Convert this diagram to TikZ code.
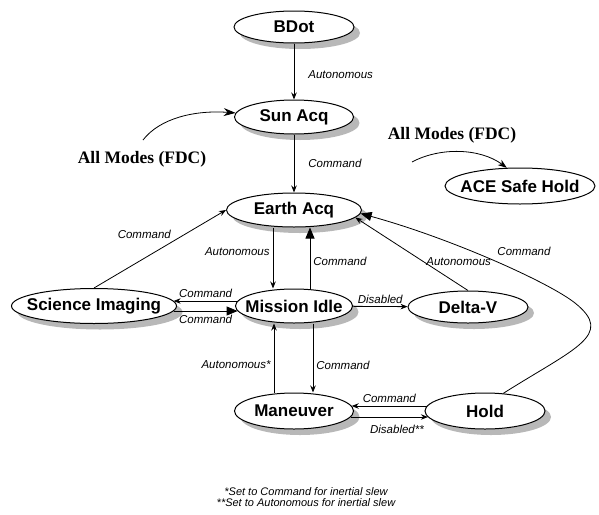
\documentclass[tikz,border=0pt]{standalone}
\usepackage{fontspec}
\setmainfont{Liberation Serif}
\setsansfont{Liberation Sans}
\usetikzlibrary{shapes.geometric,arrows.meta}

\tikzset{
  modebox/.style={ellipse, draw, line width=1pt, fill=white, inner xsep=-100pt, inner ysep=-30pt,
    font=\sffamily\bfseries\fontsize{17}{20}\selectfont},
  shadowed/.style={preaction={fill=black!28, draw=none, transform canvas={shift={(6pt,-6pt)}}}},
  lbl/.style={font=\sffamily\itshape\fontsize{11.5}{13}\selectfont, inner sep=2pt},
  big/.style={-{Triangle[length=11pt,width=9pt]}},
  fdc/.style={font=\rmfamily\bfseries\fontsize{17.5}{20}\selectfont},
  foot/.style={font=\sffamily\itshape\fontsize{11}{11.5}\selectfont, align=center}
}

\begin{document}
\begin{tikzpicture}[x=1pt, y=-1pt, >={Stealth[length=7pt,width=5.5pt]}, line width=0.8pt]
\useasboundingbox (0,0) rectangle (599,514);

% modes
\node[modebox, shadowed, minimum width=120pt, minimum height=32pt] (bdot) at (294,27) {BDot};
\node[modebox, shadowed, minimum width=119pt, minimum height=34pt] (sun) at (294,117) {Sun Acq};
\node[modebox, minimum width=150pt, minimum height=36pt] (ace) at (520,186) {ACE Safe Hold};
\node[modebox, shadowed, minimum width=135pt, minimum height=34pt] (earth) at (294,210) {Earth Acq};
\node[modebox, shadowed, minimum width=165pt, minimum height=35pt] (science) at (94,306) {Science Imaging};
\node[modebox, shadowed, minimum width=117pt, minimum height=34pt] (mission) at (294,306) {Mission Idle};
\node[modebox, shadowed, minimum width=120pt, minimum height=32pt] (delta) at (468,307) {Delta-V};
\node[modebox, shadowed, minimum width=119pt, minimum height=36pt] (maneuver) at (294,411) {Maneuver};
\node[modebox, shadowed, minimum width=120pt, minimum height=36pt] (hold) at (485,411) {Hold};

% fault detection entries
\node[fdc] (fdcL) at (142,159) {All Modes (FDC)};
\node[fdc] (fdcR) at (452,135) {All Modes (FDC)};
\coordinate (fdcLtail) at (143,140);
\coordinate (fdcRtail) at (412,162);
\draw[-{Stealth[length=12pt,width=8pt]}] (fdcLtail) .. controls (160,118) and (195,110) .. (sun.176);
\draw[-{Stealth[length=9pt,width=6.5pt]}] (fdcRtail) .. controls (440,147) and (480,148) .. (ace.126);

% transitions
\draw[->] (bdot) -- node[lbl, right=12pt, pos=0.55] {Autonomous} (sun);
\draw[->] (sun) -- node[lbl, right=12pt] {Command} (earth);
\draw[->] (science.north) -- node[lbl, pos=0.6, anchor=south east] {Command} (earth.west);
\draw[->] ([xshift=-21pt]earth.south) -- node[lbl, left=1pt, pos=0.4] {Autonomous} ([xshift=-21pt]mission.north);
\draw[big] ([xshift=16pt]mission.north) -- node[lbl, right=1pt, pos=0.44] {Command} ([xshift=16pt]earth.south);
\draw[->] ([shift={(2.6pt,5pt)}]mission.west) -- node[lbl, above=1pt] {Command} ([shift={(-3.4pt,5pt)}]science.east);
\draw[big] ([shift={(-3.4pt,-5pt)}]science.east) -- node[lbl, below=2pt] {Command} ([shift={(2.6pt,-5pt)}]mission.west);
\draw[->] (mission) -- node[lbl, above=0pt] {Disabled} (delta);
\draw[->] (delta.north) -- node[lbl, right=1pt, pos=0.4] {Autonomous} (earth.-7);
\draw[big] (hold.44) .. controls (575,348) and (615,335) .. (575,303)
  .. controls (550,283) and (453,239) .. node[lbl, pos=0.5, above right=2pt] {Command} (earth.-3);
\draw[->] ([xshift=19pt]mission.south) -- node[lbl, right=1pt, pos=0.6] {Command} ([xshift=19pt]maneuver.north);
\draw[->] ([xshift=-20pt]maneuver.north) -- node[lbl, left=1pt, pos=0.4] {Autonomous*} ([xshift=-20pt]mission.south);
\draw[->] ([shift={(2.4pt,5pt)}]hold.west) -- node[lbl, above=1pt] {Command} ([shift={(-2.3pt,5pt)}]maneuver.east);
\draw[->] ([shift={(-3.4pt,-6pt)}]maneuver.east) -- node[lbl, below=6pt, pos=0.6] {Disabled**} ([shift={(3.4pt,-6pt)}]hold.west);

% notes
\node[foot] (notes) at (306,497) {*Set to Command for inertial slew\\**Set to Autonomous for inertial slew};
\end{tikzpicture}
\end{document}
